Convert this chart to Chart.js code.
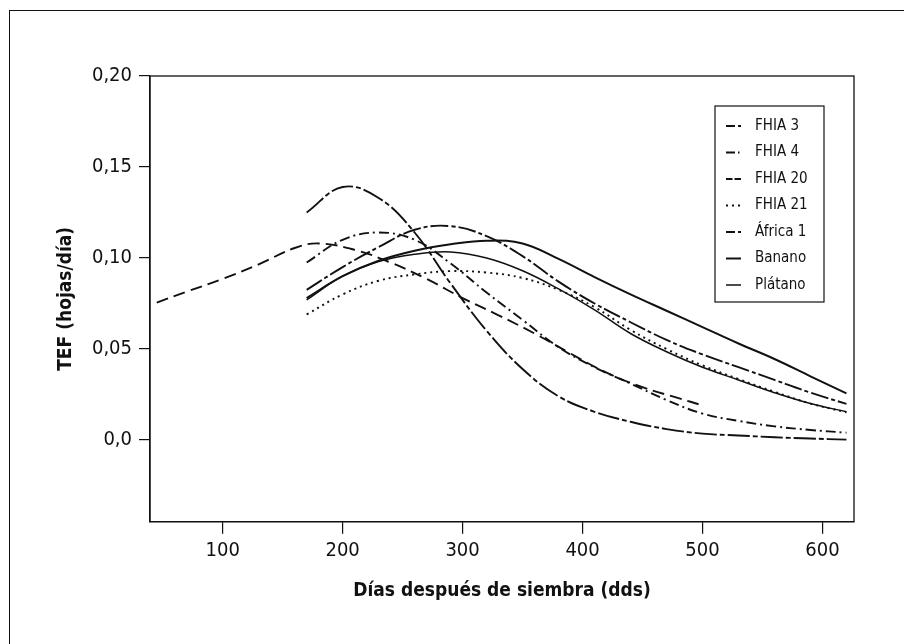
<!DOCTYPE html>
<html>
<head>
    <title>TEF (hojas/día) - Días después de siembra</title>
    <script src="https://cdn.jsdelivr.net/npm/chart.js"></script>
    <style>
        body { margin: 0; background: #fff; }
        #wrap { position: relative; width: 904px; height: 644px; overflow: hidden; }
        /* outer frame, only left and top edges fall inside the picture */
        #frame {
            position: absolute; left: 9px; top: 10px; width: 920px; height: 660px;
            border-left: 1.5px solid #111; border-top: 1.5px solid #111;
        }
        #tefChart { position: absolute; left: 0; top: 0; }
    </style>
</head>
<body>
<div id="wrap">
    <div id="frame"></div>
    <canvas id="tefChart" width="904" height="644"></canvas>
</div>

<script>
    // FHIA 20 starts earlier than the rest
    const diasFHIA20 = [45, 70, 100, 130, 160, 180, 210, 240, 270, 300, 330, 360, 390, 420, 450, 480, 500];
    const tefFHIA20  = [0.0755, 0.0815, 0.0885, 0.0965, 0.1055, 0.1080, 0.1045, 0.0975, 0.0885, 0.0780, 0.0685, 0.0585, 0.0475, 0.0370, 0.0290, 0.0230, 0.0190];

    // the other clones share the same days
    const dias = [170, 200, 230, 260, 290, 320, 350, 380, 410, 440, 470, 500, 530, 560, 590, 620];
    const tefFHIA3   = [0.0825, 0.0950, 0.1060, 0.1155, 0.1175, 0.1120, 0.1010, 0.0870, 0.0750, 0.0647, 0.0550, 0.0470, 0.0400, 0.0330, 0.0260, 0.0198];
    const tefFHIA4   = [0.0975, 0.1100, 0.1140, 0.1100, 0.0970, 0.0810, 0.0660, 0.0510, 0.0400, 0.0310, 0.0220, 0.0145, 0.0105, 0.0075, 0.0055, 0.0040];
    const tefFHIA21  = [0.0690, 0.0800, 0.0875, 0.0910, 0.0928, 0.0920, 0.0890, 0.0825, 0.0730, 0.0605, 0.0500, 0.0410, 0.0335, 0.0265, 0.0200, 0.0152];
    const tefAfrica1 = [0.1250, 0.1390, 0.1330, 0.1140, 0.0860, 0.0600, 0.0390, 0.0240, 0.0155, 0.0100, 0.0060, 0.0035, 0.0025, 0.0015, 0.0008, 0.0002];
    const tefBanano  = [0.0780, 0.0900, 0.0985, 0.1040, 0.1075, 0.1095, 0.1080, 0.0995, 0.0895, 0.0800, 0.0710, 0.0620, 0.0530, 0.0445, 0.0350, 0.0256];
    const tefPlatano = [0.0770, 0.0900, 0.0980, 0.1020, 0.1033, 0.1000, 0.0930, 0.0830, 0.0715, 0.0585, 0.0485, 0.0400, 0.0330, 0.0260, 0.0200, 0.0155];

    const xTicks = [100, 200, 300, 400, 500, 600];
    const yTicks = [0, 0.05, 0.10, 0.15, 0.20];
    const yTickLabels = ['0,0', '0,05', '0,10', '0,15', '0,20'];

    const FONT = '"Liberation Sans Narrow", "DejaVu Sans Condensed", "Arial Narrow", sans-serif';
    const INK = '#111';

    const pts = (xs, ys) => xs.map((x, i) => ({ x: x, y: ys[i] }));

    // plot box (top and right edges) drawn like the original
    const plotBox = {
        id: 'plotBox',
        beforeDatasetsDraw(chart) {
            const { ctx, chartArea: a } = chart;
            ctx.save();
            ctx.strokeStyle = INK;
            ctx.lineWidth = 1.3;
            ctx.strokeRect(a.left, a.top, a.right - a.left, a.bottom - a.top);
            ctx.restore();
        }
    };

    // boxed legend inside the plot, upper right
    const boxLegend = {
        id: 'boxLegend',
        afterDatasetsDraw(chart) {
            const { ctx, chartArea: a } = chart;
            const left = a.right - 139, top = a.top + 30, w = 109, h = 196;
            ctx.save();
            ctx.fillStyle = '#fff';
            ctx.fillRect(left, top, w, h);
            ctx.strokeStyle = INK;
            ctx.lineWidth = 1.2;
            ctx.strokeRect(left, top, w, h);
            chart.data.datasets.forEach((ds, i) => {
                const y = top + 20 + i * 26.5;
                ctx.strokeStyle = INK;
                ctx.lineWidth = ds.borderWidth;
                ctx.setLineDash(ds.legendDash || []);
                ctx.beginPath();
                ctx.moveTo(left + 11, y);
                ctx.lineTo(left + 26, y);
                ctx.stroke();
                ctx.setLineDash([]);
                ctx.fillStyle = INK;
                ctx.font = '15px ' + FONT;
                ctx.textBaseline = 'middle';
                ctx.fillText(ds.label, left + 40, y);
            });
            ctx.restore();
        }
    };

    const ctx = document.getElementById('tefChart').getContext('2d');
    new Chart(ctx, {
        type: 'line',
        data: {
            datasets: [
                { label: 'FHIA 3', data: pts(dias, tefFHIA3), borderDash: [18, 3, 4, 3], legendDash: [9, 3, 3, 20], borderWidth: 1.9 },
                { label: 'FHIA 4', data: pts(dias, tefFHIA4), borderDash: [10, 4, 2, 4], legendDash: [9, 3, 1.5, 2.5, 1.5, 20], borderWidth: 1.9 },
                { label: 'FHIA 20', data: pts(diasFHIA20, tefFHIA20), borderDash: [12, 6], legendDash: [6.5, 2, 6.5, 20], borderWidth: 1.9 },
                { label: 'FHIA 21', data: pts(dias, tefFHIA21), borderDash: [2, 4], legendDash: [2, 4], borderWidth: 1.9 },
                { label: 'África 1', data: pts(dias, tefAfrica1), borderDash: [22, 3, 5, 3], legendDash: [9, 3, 3, 20], borderWidth: 1.9 },
                { label: 'Banano', data: pts(dias, tefBanano), borderDash: [], legendDash: [], borderWidth: 2 },
                { label: 'Plátano', data: pts(dias, tefPlatano), borderDash: [], legendDash: [], borderWidth: 1.5 }
            ].map(ds => Object.assign(ds, {
                borderColor: INK,
                backgroundColor: INK,
                fill: false,
                pointRadius: 0,
                tension: 0.4
            }))
        },
        options: {
            responsive: false,
            animation: false,
            layout: { padding: { top: 76, right: 50, bottom: 0, left: 0 } },
            plugins: {
                legend: { display: false },
                tooltip: { enabled: false }
            },
            scales: {
                x: {
                    type: 'linear',
                    min: 39.4,
                    max: 626.3,
                    afterBuildTicks: s => { s.ticks = xTicks.map(v => ({ value: v })); },
                    afterFit: s => { s.height = 122.3; },
                    grid: { drawOnChartArea: false, drawTicks: true, tickLength: 12, color: INK, lineWidth: 1.2 },
                    border: { display: true, color: INK, width: 1.3 },
                    ticks: { color: INK, padding: 5, maxRotation: 0, font: { family: FONT, size: 20 } },
                    title: {
                        display: true,
                        text: 'Días después de siembra (dds)',
                        color: INK,
                        font: { family: FONT, size: 19, weight: 'bold' },
                        padding: { top: 0, bottom: 42 }
                    }
                },
                y: {
                    min: -0.0449,
                    max: 0.2,
                    afterBuildTicks: s => { s.ticks = yTicks.map(v => ({ value: v })); },
                    afterFit: s => { s.width = 150; },
                    grid: { drawOnChartArea: false, drawTicks: true, tickLength: 11, color: INK, lineWidth: 1.2 },
                    border: { display: true, color: INK, width: 1.3 },
                    ticks: {
                        color: INK,
                        padding: 7,
                        font: { family: FONT, size: 20 },
                        callback: (v, i) => yTickLabels[i]
                    },
                    title: {
                        display: true,
                        text: 'TEF (hojas/día)',
                        color: INK,
                        font: { family: FONT, size: 19, weight: 'bold' },
                        padding: { top: 55, bottom: 0 }
                    }
                }
            }
        },
        plugins: [plotBox, boxLegend]
    });
</script>
</body>
</html>
